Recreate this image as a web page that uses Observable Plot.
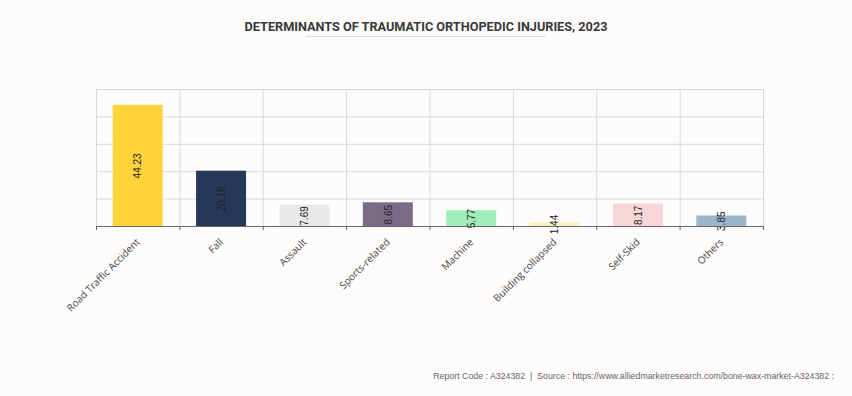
<!DOCTYPE html>
<html><head><meta charset="utf-8">
<script src="https://cdn.jsdelivr.net/npm/d3@7"></script>
<script src="https://cdn.jsdelivr.net/npm/@observablehq/plot@0.6"></script>
<style>
body{margin:0;background:#fdfcfb;width:852px;height:396px;overflow:hidden;position:relative;font-family:"Liberation Sans",Arial,sans-serif}
#title{position:absolute;top:19px;left:0;width:852px;text-align:center;font:bold 12.7px Roboto,sans-serif;color:#383838}
#rule{position:absolute;top:36px;left:306px;width:240px;height:1px;background:#dcdcdc}
#chart{position:absolute;top:50px;left:0}
#footer{position:absolute;top:371px;right:18px;font:8.8px "Liberation Sans",Arial,sans-serif;color:#666;white-space:pre}
</style></head><body>
<div id="title">DETERMINANTS OF TRAUMATIC ORTHOPEDIC INJURIES, 2023</div>
<div id="rule"></div>
<div id="chart"></div>
<div id="footer">Report Code : A324382  |  Source : https://www.alliedmarketresearch.com/bone-wax-market-A324382 :</div>
<script>
const categories = ["Road Traffic Accident","Fall","Assault","Sports-related","Machine","Building collapsed","Self-Skid","Others"];
const values = [44.23, 20.19, 7.69, 8.65, 5.77, 1.44, 8.17, 3.85];
const colors = ["#ffd43b","#253858","#e8e8e8","#7c6b86","#a0edbb","#f6f6c2","#f6d6d9","#9ab5cc"];
const yTicks = [0, 10, 20, 30, 40, 50];

const data = categories.map((c, i) => ({category: c, value: values[i], color: colors[i], index: i}));
const n = categories.length;
const boundaries = d3.range(n + 1);
const centers = d3.range(n).map(i => i + 0.5);

const chart = Plot.plot({
  width: 852, height: 310,
  marginTop: 39, marginBottom: 134, marginLeft: 96, marginRight: 89,
  style: {background: "transparent", fontFamily: "'Liberation Sans', Arial, sans-serif", fontSize: "10px"},
  x: {type: "linear", domain: [0, n]},
  y: {domain: [0, 50], axis: null},
  marks: [
    Plot.gridY(yTicks, {stroke: "#d9d9d9", strokeOpacity: 1}),
    Plot.gridX(boundaries, {stroke: "#d9d9d9", strokeOpacity: 1}),
    Plot.rectY(data, {x1: "index", x2: d => d.index + 1, y: "value", fill: "color", insetLeft: 16.7, insetRight: 16.7}),
    Plot.text(data, {x: d => d.index + 0.5, y: d => d.value / 2, text: d => d.value.toFixed(2), rotate: -90, fill: "#222", fontSize: 10}),
    Plot.ruleY([0], {stroke: "#666"}),
    Plot.axisX(boundaries, {tickSize: 4, tickFormat: () => "", stroke: "#666", label: null}),
    Plot.axisX(centers, {tickSize: 0, tickPadding: 14, tickFormat: d => categories[Math.floor(d)], tickRotate: -45, textAnchor: "end", fill: "#444", fontSize: 10, fontFamily: "'Open Sans', sans-serif", label: null})
  ]
});
document.getElementById("chart").appendChild(chart);
</script>
</body></html>
